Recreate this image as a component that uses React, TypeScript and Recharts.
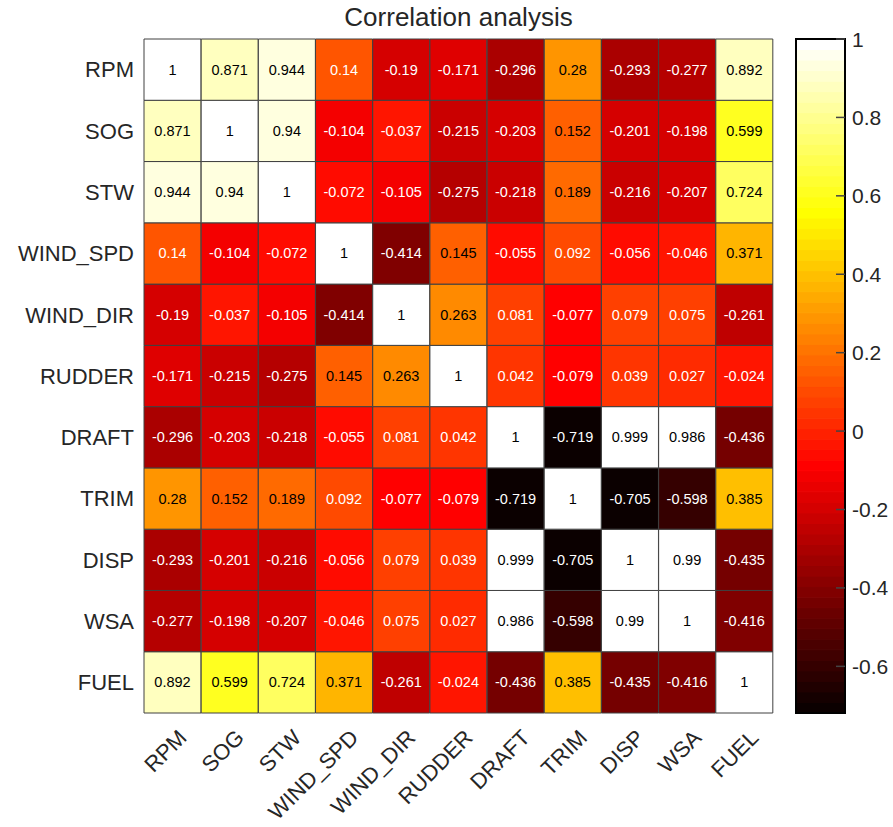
import React from 'react';
import {
  BarChart,
  Bar,
  Cell,
  LabelList,
  XAxis,
  YAxis,
  ComposedChart,
  Line,
  ReferenceArea,
} from 'recharts';

const names = ['RPM', 'SOG', 'STW', 'WIND_SPD', 'WIND_DIR', 'RUDDER', 'DRAFT', 'TRIM', 'DISP', 'WSA', 'FUEL'];

const rpm = [1, 0.871, 0.944, 0.14, -0.19, -0.171, -0.296, 0.28, -0.293, -0.277, 0.892];
const sog = [0.871, 1, 0.94, -0.104, -0.037, -0.215, -0.203, 0.152, -0.201, -0.198, 0.599];
const stw = [0.944, 0.94, 1, -0.072, -0.105, -0.275, -0.218, 0.189, -0.216, -0.207, 0.724];
const windSpd = [0.14, -0.104, -0.072, 1, -0.414, 0.145, -0.055, 0.092, -0.056, -0.046, 0.371];
const windDir = [-0.19, -0.037, -0.105, -0.414, 1, 0.263, 0.081, -0.077, 0.079, 0.075, -0.261];
const rudder = [-0.171, -0.215, -0.275, 0.145, 0.263, 1, 0.042, -0.079, 0.039, 0.027, -0.024];
const draft = [-0.296, -0.203, -0.218, -0.055, 0.081, 0.042, 1, -0.719, 0.999, 0.986, -0.436];
const trim = [0.28, 0.152, 0.189, 0.092, -0.077, -0.079, -0.719, 1, -0.705, -0.598, 0.385];
const disp = [-0.293, -0.201, -0.216, -0.056, 0.079, 0.039, 0.999, -0.705, 1, 0.99, -0.435];
const wsa = [-0.277, -0.198, -0.207, -0.046, 0.075, 0.027, 0.986, -0.598, 0.99, 1, -0.416];
const fuel = [0.892, 0.599, 0.724, 0.371, -0.261, -0.024, -0.436, 0.385, -0.435, -0.416, 1];

const matrix = [rpm, sog, stw, windSpd, windDir, rudder, draft, trim, disp, wsa, fuel];

const colorbarTicks = [-0.6, -0.4, -0.2, 0, 0.2, 0.4, 0.6, 0.8, 1];

const cMin = -0.719;
const cMax = 1;
const nColors = 64;
const font = 'Arial, "Liberation Sans", Helvetica, sans-serif';
const textDark = '#262626';

// MATLAB style hot colormap, 64 steps
const hotIndex = (i: number) => {
  const n = 24;
  const r = i < n ? (i + 1) / n : 1;
  const g = i < n ? 0 : i < 2 * n ? (i - n + 1) / n : 1;
  const b = i < 2 * n ? 0 : (i - 2 * n + 1) / (nColors - 2 * n);
  const c = (x: number) => Math.round(x * 255);
  return `rgb(${c(r)},${c(g)},${c(b)})`;
};

const hotColor = (v: number) => {
  const t = (v - cMin) / (cMax - cMin);
  const idx = Math.min(nColors - 1, Math.max(0, Math.floor(t * nColors)));
  return hotIndex(idx);
};

// one entry per column, stacked unit bars (bottom row first)
const nRows = names.length;
const chartData = names.map((col, j) => {
  const row: any = { name: col };
  for (let k = 0; k < nRows; k++) {
    row[`r${k}`] = 1;
    row[`v${k}`] = matrix[nRows - 1 - k][j];
  }
  return row;
});

const bands = Array.from({ length: nColors }, (_, i) => ({
  y1: cMin + (i * (cMax - cMin)) / nColors,
  y2: cMin + ((i + 1) * (cMax - cMin)) / nColors,
  fill: hotIndex(i),
}));

const cbData = [
  { x: 0, y: cMin },
  { x: 1, y: cMax },
];

const CellLabel = (props: any) => {
  const { x, y, width, height, value } = props;
  const v = Number(value);
  return (
    <text
      x={x + width / 2}
      y={y + height / 2}
      textAnchor="middle"
      dominantBaseline="central"
      fontSize={14.5}
      fontFamily={font}
      fill={v < 0.1425 ? '#ffffff' : '#000000'}
    >
      {String(v)}
    </text>
  );
};

const XTick = (props: any) => {
  const { x, payload } = props;
  const ax = x + 15.5;
  const ay = 739;
  return (
    <text
      x={ax}
      y={ay}
      textAnchor="end"
      fontSize={22}
      fontFamily={font}
      fill={textDark}
      transform={`rotate(-45, ${ax}, ${ay})`}
    >
      {payload.value}
    </text>
  );
};

const cbLeft = 20;
const cbWidth = 49;
const cbAxisX = cbLeft + cbWidth;

const CbTick = (props: any) => {
  const { y, payload } = props;
  return (
    <g>
      <line x1={cbAxisX - 9} x2={cbAxisX} y1={y} y2={y} stroke="#444" strokeWidth={1.5} />
      <text
        x={cbAxisX + 7}
        y={y}
        dominantBaseline="central"
        fontSize={21}
        fontFamily={font}
        fill={textDark}
      >
        {payload.value}
      </text>
    </g>
  );
};

export default function App() {
  return (
    <div style={{ position: 'absolute', left: 0, top: 0, width: 893, height: 827, background: '#fff' }}>
      <div
        style={{
          position: 'absolute',
          left: 144,
          width: 629,
          top: 2,
          textAlign: 'center',
          fontFamily: font,
          fontSize: 26,
          color: textDark,
        }}
      >
        Correlation analysis
      </div>
      <div style={{ position: 'absolute', left: 0, top: 0 }}>
        <BarChart
          width={893}
          height={827}
          data={chartData}
          margin={{ top: 39, right: 120, bottom: 14, left: 84 }}
          barCategoryGap={0}
          barGap={0}
        >
          <XAxis
            dataKey="name"
            type="category"
            height={100}
            tickLine={false}
            axisLine={false}
            interval={0}
            tick={<XTick />}
          />
          <YAxis
            type="number"
            domain={[0, nRows]}
            ticks={names.map((_, k) => k + 0.5)}
            tickFormatter={(k: number) => names[nRows - 1 - Math.floor(k)]}
            width={60}
            tickLine={false}
            axisLine={false}
            tickMargin={4}
            tick={{ fontSize: 22, fontFamily: font, fill: textDark }}
          />
          {names.map((_, k) => (
            <Bar key={k} dataKey={`r${k}`} stackId="a" isAnimationActive={false}>
              {chartData.map((d, j) => (
                <Cell key={j} fill={hotColor(d[`v${k}`])} stroke="#404040" strokeWidth={1} />
              ))}
              <LabelList dataKey={`v${k}`} content={<CellLabel />} />
            </Bar>
          ))}
        </BarChart>
      </div>
      <div style={{ position: 'absolute', left: 776, top: 0 }}>
        <ComposedChart
          width={117}
          height={827}
          data={cbData}
          margin={{ top: 39, right: 0, bottom: 114, left: cbLeft }}
        >
          <XAxis dataKey="x" type="number" domain={[0, 1]} hide />
          <YAxis
            type="number"
            orientation="right"
            domain={[cMin, cMax]}
            ticks={colorbarTicks}
            width={48}
            tickLine={false}
            axisLine={false}
            tick={<CbTick />}
          />
          <Line dataKey="y" stroke="none" dot={false} isAnimationActive={false} />
          {bands.map((b, i) => (
            <ReferenceArea
              key={i}
              x1={0}
              x2={1}
              y1={b.y1}
              y2={b.y2}
              fill={b.fill}
              fillOpacity={1}
              stroke={b.fill}
              strokeWidth={1}
            />
          ))}
          <ReferenceArea x1={0} x2={1} y1={cMin} y2={cMax} fill="none" stroke="#000" strokeWidth={2} />
        </ComposedChart>
      </div>
    </div>
  );
}
